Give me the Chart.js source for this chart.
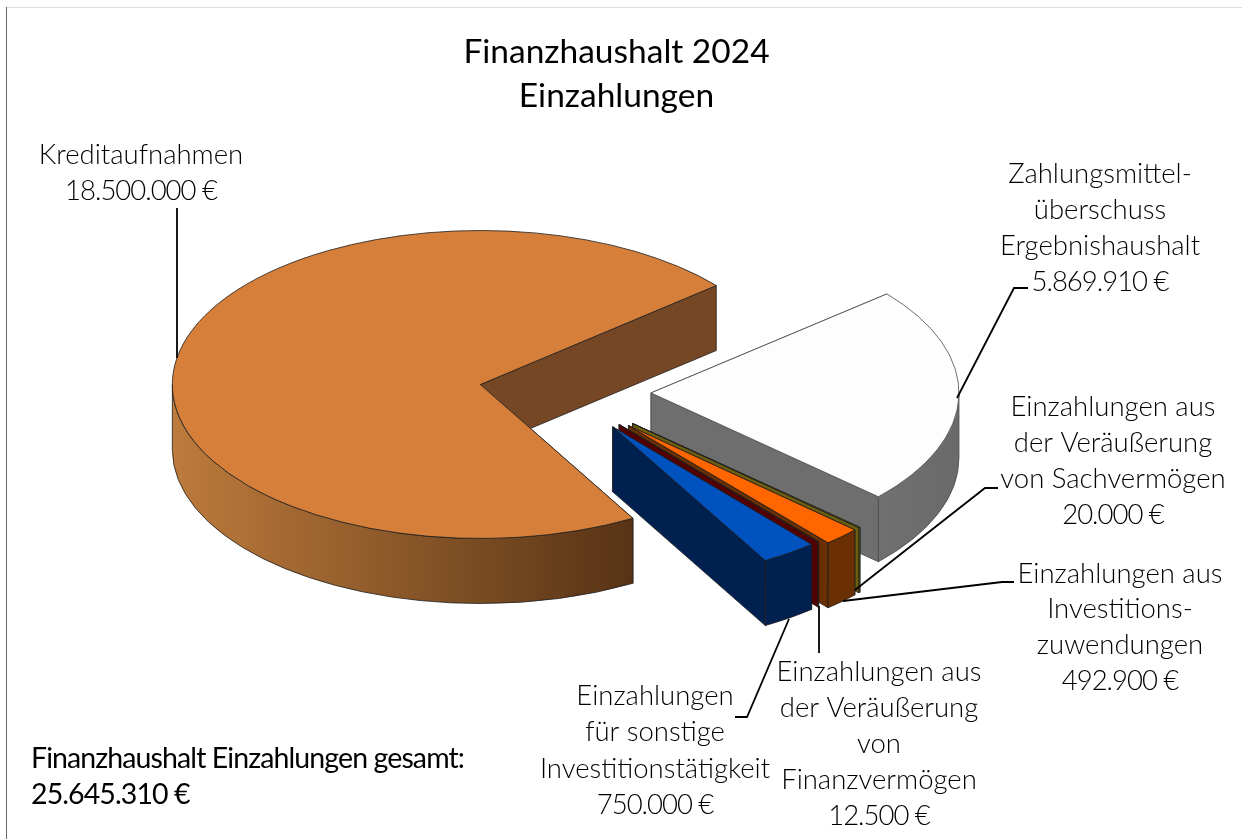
<!DOCTYPE html>
<html><head><meta charset="utf-8">
<script src="https://cdn.jsdelivr.net/npm/chart.js@4"></script>
<style>html,body{margin:0;padding:0;background:#fff;overflow:hidden}canvas{display:block}</style>
</head><body><canvas id="c" width="1242" height="839"></canvas>
<script>
const titleLines = ['Finanzhaushalt 2024', 'Einzahlungen'];
const categories = ['Zahlungsmittelüberschuss Ergebnishaushalt','Einzahlungen aus der Veräußerung von Sachvermögen','Einzahlungen aus Investitionszuwendungen','Einzahlungen aus der Veräußerung von Finanzvermögen','Einzahlungen für sonstige Investitionstätigkeit','Kreditaufnahmen'];
const values = [5869910, 20000, 492900, 12500, 750000, 18500000];
const labelLines = [
  ['Zahlungsmittel-','überschuss','Ergebnishaushalt'],
  ['Einzahlungen aus','der Veräußerung','von Sachvermögen'],
  ['Einzahlungen aus','Investitions-','zuwendungen'],
  ['Einzahlungen aus','der Veräußerung','von','Finanzvermögen'],
  ['Einzahlungen','für sonstige','Investitionstätigkeit'],
  ['Kreditaufnahmen']
];
const topColors  = ['#fdfdfd','#9c8a14','#ff6600','#7a1500','#0052bf','#d67f3a'];
const edgeColors = ['#6e6e6e','#6e5f10','#6a2f02','#520000','#00214f','#754725'];
const wallColors = [['#707070','#6a6a6a'],['#6e5f10','#6e5f10'],['#6a2f02','#6a2f02'],['#520000','#520000'],['#00214f','#00214f'],['#bd7b3c','#573315']];
const explodeOffsets = [348,372,372,340,340,340];
const drawOrder = [0,5,1,2,3,4];
const totalLabel = 'Finanzhaushalt Einzahlungen gesamt:';

const euro = v => v.toLocaleString('de-DE') + ' €';
const LAYOUT = {
  center:{x:564,y:392}, squash:0.5, depth:65,
  labels:[
    {x:1100,y:174,dy:36},{x:1113,y:407,dy:36},{x:1120,y:574,dy:35.6},
    {x:879,y:672,dy:36},{x:655,y:696,dy:36.4},{x:141,y:155,dy:36}
  ],
  leaders:[
    [[1028,288],[1014,288],[957,398]],
    [[998,488],[985,488],[855,590]],
    [[1014,582],[1002,582],[843,601]],
    [[819,653],[819,606]],
    [[735,717],[747,717],[789,619]],
    [[177,208],[177,358]]
  ]
};

const pie3d = {
  id:'pie3d',
  beforeDatasetDraw(chart){
    const ctx = chart.ctx, {center:C, squash:S, depth:D} = LAYOUT;
    const arcs = chart.getDatasetMeta(0).data;
    const TAU = Math.PI*2;
    drawOrder.forEach(i=>{
      const a = arcs[i], a1 = a.startAngle, a2 = a.endAngle;
      const mid = (a1+a2)/2, off = a.options.offset/4, r = a.outerRadius;
      const ox = C.x + Math.cos(mid)*off, oy = C.y + Math.sin(mid)*off*S;
      const P = (ang,h=0)=>[ox+Math.cos(ang)*r, oy+Math.sin(ang)*r*S+h];
      const stroke = i===0 ? '#4a4a4a' : '#1e1e1e';
      ctx.save();
      ctx.lineWidth = 0.8; ctx.lineJoin='round'; ctx.strokeStyle = stroke;
      // radial side walls
      [a1,a2].forEach(ang=>{
        const p = P(ang);
        ctx.beginPath(); ctx.moveTo(ox,oy); ctx.lineTo(p[0],p[1]); ctx.lineTo(p[0],p[1]+D); ctx.lineTo(ox,oy+D); ctx.closePath();
        ctx.fillStyle = edgeColors[i]; ctx.fill(); ctx.stroke();
      });
      // outer curved wall (only the part facing the viewer)
      const s = ((a1%TAU)+TAU)%TAU, e = s+(a2-a1), spans=[];
      if(s<Math.PI) spans.push([s,Math.min(e,Math.PI)]);
      if(e>TAU) spans.push([TAU,Math.min(e,TAU+Math.PI)]);
      spans.forEach(([u,v])=>{
        const x0 = Math.min(P(u)[0],P(v)[0]), x1 = Math.max(P(u)[0],P(v)[0]);
        const g = ctx.createLinearGradient(x0,0,x1,0);
        g.addColorStop(0,wallColors[i][0]); g.addColorStop(1,wallColors[i][1]);
        ctx.beginPath();
        ctx.ellipse(ox,oy,r,r*S,0,u,v,false);
        ctx.ellipse(ox,oy+D,r,r*S,0,v,u,true);
        ctx.closePath();
        ctx.fillStyle = g; ctx.fill(); ctx.stroke();
      });
      // top face from the arc element's geometry and colour
      ctx.beginPath(); ctx.moveTo(ox,oy); ctx.ellipse(ox,oy,r,r*S,0,a1,a2,false); ctx.closePath();
      ctx.fillStyle = a.options.backgroundColor; ctx.fill();
      ctx.stroke();
      ctx.restore();
    });
    return false;
  },
  afterDraw(chart){
    const ctx = chart.ctx;
    ctx.save();
    // frame
    ctx.fillStyle='#dcdcdc'; ctx.fillRect(6,7,1236,1);
    ctx.fillStyle='#6a6a6a'; ctx.fillRect(6,7,1,832);
    // leaders
    ctx.strokeStyle='#000'; ctx.lineWidth=1.8; ctx.lineJoin='miter';
    LAYOUT.leaders.forEach(l=>{ctx.beginPath();l.forEach((p,k)=>k?ctx.lineTo(p[0],p[1]):ctx.moveTo(p[0],p[1]));ctx.stroke();});
    // data labels
    ctx.fillStyle='#000'; ctx.textAlign='center'; ctx.textBaseline='middle';
    ctx.font='300 27.5px Lato';
    labelLines.forEach((lines,i)=>{
      const L = LAYOUT.labels[i];
      ctx.letterSpacing='0px';
      lines.forEach((t,k)=>ctx.fillText(t,L.x,L.y+k*L.dy));
      ctx.letterSpacing='-1px';
      ctx.fillText(euro(values[i]),L.x,L.y+lines.length*L.dy);
    });
    // total
    ctx.fillStyle='#000'; ctx.textAlign='left';
    ctx.font='400 28.5px Lato'; ctx.letterSpacing='-0.9px';
    ctx.fillText(totalLabel,31,759);
    ctx.fillText(euro(values.reduce((a,b)=>a+b,0)),31,795);
    ctx.restore();
  }
};

new Chart(document.getElementById('c'),{
  type:'pie',
  data:{labels:categories,datasets:[{data:values,backgroundColor:topColors,borderWidth:0,offset:explodeOffsets}]},
  options:{
    responsive:false, animation:false, rotation:50, radius:308,
    layout:{padding:{left:0,right:9,top:0,bottom:0}},
    events:[],
    plugins:{
      legend:{display:false}, tooltip:{enabled:false},
      title:{display:true,text:titleLines,color:'#000',padding:{top:30,bottom:0},
        font:{family:'Lato',size:33.5,weight:'400',lineHeight:1.32}}
    }
  },
  plugins:[pie3d]
});
</script></body></html>
